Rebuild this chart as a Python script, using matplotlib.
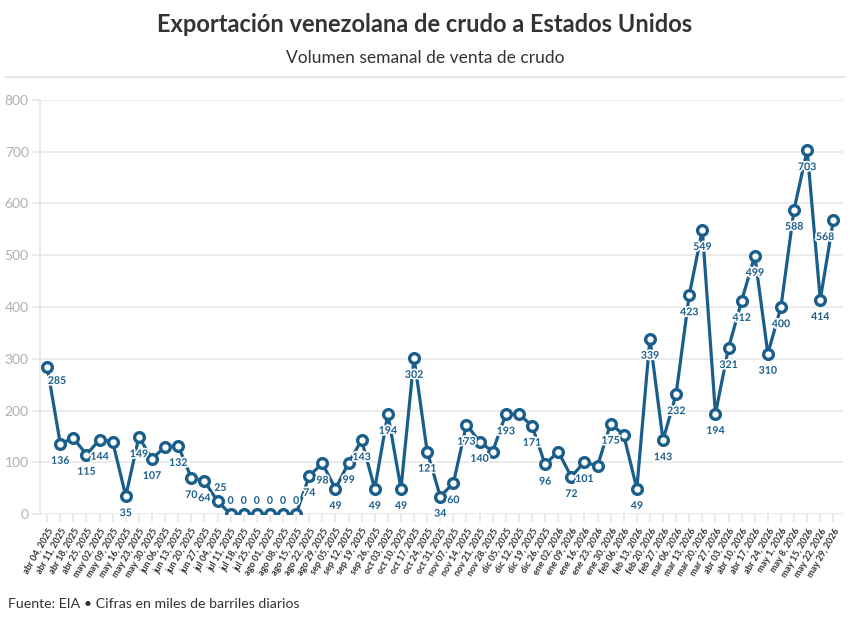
import matplotlib
matplotlib.use("Agg")
import matplotlib.pyplot as plt
import matplotlib.patheffects as pe

plt.rcParams['font.family'] = ['Lato', 'DejaVu Sans']

# weekly dates (x tick labels)
dates = [
    "abr 04, 2025", "abr 11, 2025", "abr 18, 2025", "abr 25, 2025", "may 02, 2025",
    "may 09, 2025", "may 16, 2025", "may 23, 2025", "may 30, 2025", "jun 06, 2025",
    "jun 13, 2025", "jun 20, 2025", "jun 27, 2025", "jul 04, 2025", "jul 11, 2025",
    "jul 18, 2025", "jul 25, 2025", "ago 01, 2025", "ago 08, 2025", "ago 15, 2025",
    "ago 22, 2025", "ago 29, 2025", "sep 05, 2025", "sep 12, 2025", "sep 19, 2025",
    "sep 26, 2025", "oct 03, 2025", "oct 10, 2025", "oct 17, 2025", "oct 24, 2025",
    "oct 31, 2025", "nov 07, 2025", "nov 14, 2025", "nov 21, 2025", "nov 28, 2025",
    "dic 05, 2025", "dic 12, 2025", "dic 19, 2025", "dic 26, 2025", "ene 02, 2026",
    "ene 09, 2026", "ene 16, 2026", "ene 23, 2026", "ene 30, 2026", "feb 06, 2026",
    "feb 13, 2026", "feb 20, 2026", "feb 27, 2026", "mar 06, 2026", "mar 13, 2026",
    "mar 20, 2026", "mar 27, 2026", "abr 03, 2026", "abr 10, 2026", "abr 17, 2026",
    "abr 24, 2026", "may 1, 2026", "may 8, 2026", "may 15, 2026", "may 22, 2026",
    "may 29, 2026",
]

# miles de barriles diarios
volumen = [
    285, 136, 147, 115, 144, 140, 35, 149, 107, 130,
    132, 70, 64, 25, 0, 0, 0, 0, 0, 0,
    74, 98, 49, 99, 143, 49, 194, 49, 302, 121,
    34, 60, 173, 140, 121, 193, 193, 171, 96, 121,
    72, 101, 93, 175, 153, 49, 339, 143, 232, 423,
    549, 194, 321, 412, 499, 310, 400, 588, 703, 414,
    568,
]

# points without a value label in the original
sin_etiqueta = {2, 5, 9, 34, 36, 39, 42, 44}

azul = "#1a5e8b"
gris = "#e8e8e8"

fig = plt.figure(figsize=(8.5, 6.24), dpi=100)
ax = fig.add_axes([0.047, 0.176, 0.945, 0.664])

x = list(range(len(volumen)))
ax.plot(x, volumen, color=azul, lw=2.3, zorder=3,
        marker="o", ms=7, mfc="white", mec=azul, mew=2.4)

for i, v in enumerate(volumen):
    if i in sin_etiqueta:
        continue
    dx, dy, va = 0, -8, "top"
    if v < 30:                      # zeros and the 25 sit above the point
        dx, dy, va = (2, 6, "bottom") if v else (0, 6, "bottom")
    elif i == 0:
        dx, dy = 7, -6
    elif i == len(volumen) - 1:
        dx = -6
    ax.annotate(str(v), (i, v), xytext=(dx, dy), textcoords="offset points",
                ha="center", va=va, fontsize=7.6, fontweight="bold",
                color=azul, zorder=4,
                path_effects=[pe.withStroke(linewidth=2.5, foreground="white")])

ax.set_ylim(0, 800)
ax.set_xlim(-0.55, len(volumen) - 1 + 0.75)
ax.set_yticks(range(0, 801, 100))
ax.grid(axis="y", color=gris, lw=1.2)
ax.set_axisbelow(True)
for s in ["top", "right", "bottom"]:
    ax.spines[s].set_visible(False)
ax.spines["left"].set_color(gris)
ax.spines["left"].set_linewidth(1.2)
ax.tick_params(axis="y", length=6, width=1.2, color=gris, labelcolor="#b0b0b0",
               labelsize=10, pad=2)

ax.set_xticks(x)
ax.set_xticklabels(dates, rotation=60, ha="right", rotation_mode="anchor",
                   fontsize=6.5, fontweight="bold", color="#333333")
ax.tick_params(axis="x", length=6, width=1.2, color=gris, pad=3)

fig.text(0.5, 0.96, "Exportación venezolana de crudo a Estados Unidos",
         ha="center", va="center", fontsize=17, fontweight="bold", color="#333333")
fig.text(0.5, 0.907, "Volumen semanal de venta de crudo",
         ha="center", va="center", fontsize=12.5, color="#333333")
fig.add_artist(plt.Line2D([0.006, 0.994], [0.877, 0.877], color=gris, lw=1.5))
fig.text(0.01, 0.032, "Fuente: EIA • Cifras en miles de barriles diarios",
         ha="left", va="center", fontsize=10.2, color="#333333")

fig.savefig("out.png", dpi=100, facecolor="white")
